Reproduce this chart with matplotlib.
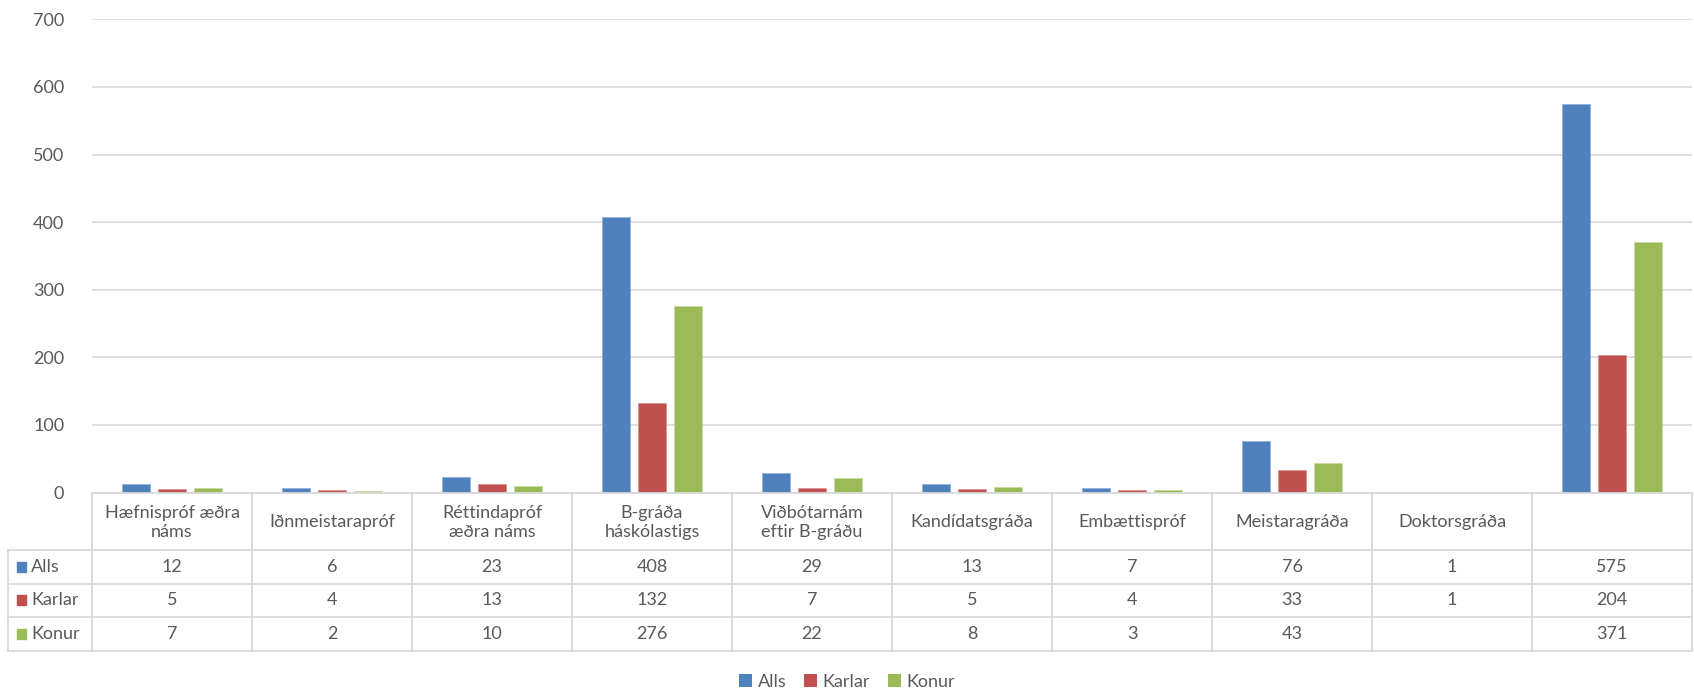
import numpy as np
import matplotlib
matplotlib.use("Agg")
import matplotlib.pyplot as plt
from matplotlib.lines import Line2D
from matplotlib.patches import Patch

plt.rcParams['font.family'] = ['Lato', 'DejaVu Sans']

categories = ["Hæfnispróf æðra\nnáms", "Iðnmeistarapróf", "Réttindapróf\næðra náms",
              "B-gráða\nháskólastigs", "Viðbótarnám\neftir B-gráðu", "Kandídatsgráða",
              "Embættispróf", "Meistaragráða", "Doktorsgráða", ""]
series_names = ["Alls", "Karlar", "Konur"]
alls = [12, 6, 23, 408, 29, 13, 7, 76, 1, 575]
karlar = [5, 4, 13, 132, 7, 5, 4, 33, 1, 204]
konur = [7, 2, 10, 276, 22, 8, 3, 43, None, 371]
yticks = [0, 100, 200, 300, 400, 500, 600, 700]

colors = ["#4F81BD", "#C0504D", "#9BBB59"]
edge_colors = ["#8EAEDB", "#DB8F8D", "#C4D89C"]
text_col = "#595959"
grid_col = "#D9D9D9"

W, H = 1694, 690
fig = plt.figure(figsize=(W / 100, H / 100), dpi=100)

ax_l, ax_r, ax_t, ax_b = 92, 1692, 19.3, 492.5
ax = fig.add_axes([ax_l / W, 1 - ax_b / H, (ax_r - ax_l) / W, (ax_b - ax_t) / H])

series = [alls, karlar, konur]
x = np.arange(len(categories))
offsets = [-0.225, 0.0, 0.225]
for s, vals in enumerate(series):
    v = np.array([np.nan if a is None else a for a in vals], dtype=float)
    ax.bar(x + offsets[s], v, width=0.18, color=colors[s], edgecolor=edge_colors[s],
           linewidth=0.5, zorder=3)

ax.set_xlim(-0.5, len(categories) - 0.5)
ax.set_ylim(0, 700)
ax.set_yticks(yticks)
ax.set_yticklabels([str(t) for t in yticks], fontsize=13, color=text_col)
ax.tick_params(axis='y', length=0, pad=20)
ax.set_xticks([])
ax.grid(axis='y', color=grid_col, linewidth=1.2, zorder=0)
for sp in ax.spines.values():
    sp.set_visible(False)

# ---- data table ----
def fx(px):
    return px / W

def fy(py):
    return 1 - py / H

col_w = (ax_r - ax_l) / len(categories)
row_top, hdr_bot = 492.5, 550
row_bounds = [550, 583.5, 617, 651]
left_edge = 8

lines = []
lines.append(((ax_l, ax_r), (row_top, row_top)))
for yb in row_bounds:
    lines.append(((left_edge, ax_r), (yb, yb)))
lines.append(((left_edge, left_edge), (hdr_bot, row_bounds[-1])))
for k in range(len(categories) + 1):
    xv = ax_l + k * col_w
    lines.append(((xv, xv), (row_top, row_bounds[-1])))
for (xs, ys) in lines:
    fig.add_artist(Line2D([fx(xs[0]), fx(xs[1])], [fy(ys[0]), fy(ys[1])],
                          color=grid_col, linewidth=1.3, transform=fig.transFigure, zorder=5))

for k, c in enumerate(categories):
    cx = ax_l + (k + 0.5) * col_w
    fig.text(fx(cx), fy((row_top + hdr_bot) / 2 + 1), c, ha='center', va='center',
             fontsize=13, color=text_col, linespacing=1.25)

for s, vals in enumerate(series):
    y0, y1 = row_bounds[s], row_bounds[s + 1]
    cy = (y0 + y1) / 2
    fig.patches.append(plt.Rectangle((fx(17), fy(cy + 5)), 9 / W, 10 / H,
                                     color=colors[s], transform=fig.transFigure))
    fig.text(fx(31), fy(cy), series_names[s], ha='left', va='center',
             fontsize=13, color=text_col)
    for k, v in enumerate(vals):
        if v is None:
            continue
        cx = ax_l + (k + 0.5) * col_w
        fig.text(fx(cx), fy(cy), str(v), ha='center', va='center',
                 fontsize=13, color=text_col)

handles = [Patch(facecolor=colors[i], edgecolor='none', label=series_names[i]) for i in range(3)]
fig.legend(handles=handles, loc='center', bbox_to_anchor=(0.5, 1 - 682 / H), ncol=3,
           frameon=False, fontsize=13, handlelength=0.7, handleheight=0.7,
           handletextpad=0.3, columnspacing=1.0, labelcolor=text_col)

fig.savefig("out.png", dpi=100)
